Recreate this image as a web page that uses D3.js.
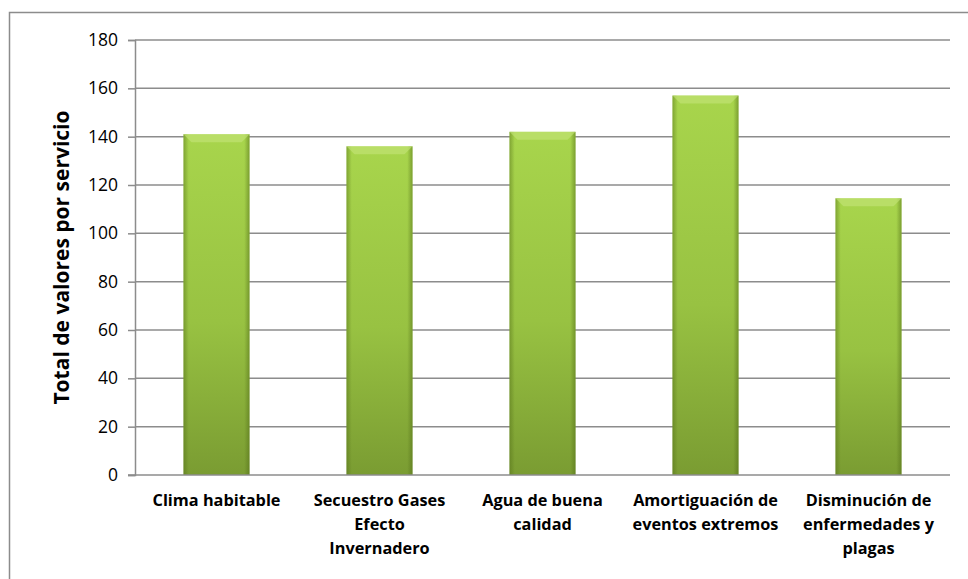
<!DOCTYPE html>
<html>
<head>
<meta charset="UTF-8">
<title>Total de valores por servicio</title>
<script src="https://d3js.org/d3.v7.min.js"></script>
<style>
    body, html { margin: 0; padding: 0; background: #fff; }
    svg { display: block; }
    .tick text { font-family: "Open Sans", Lato, sans-serif; }
</style>
</head>
<body>
<div id="chart"></div>
<script>
    // data
    const categories = [
        ["Clima habitable"],
        ["Secuestro Gases", "Efecto", "Invernadero"],
        ["Agua de buena", "calidad"],
        ["Amortiguación de", "eventos extremos"],
        ["Disminución de", "enfermedades y", "plagas"]
    ];
    const values = [141, 136, 142, 157, 114.5];
    const yTicks = [0, 20, 40, 60, 80, 100, 120, 140, 160, 180];

    const width = 968, height = 579;
    const margin = {top: 40, right: 18, bottom: 104, left: 135};

    const svg = d3.select("#chart").append("svg")
        .attr("width", width)
        .attr("height", height);

    // outer chart border
    svg.append("rect")
        .attr("x", 9.5).attr("y", 12.5)
        .attr("width", width + 10).attr("height", height + 10)
        .attr("fill", "none")
        .attr("stroke", "#8c8c8c")
        .attr("stroke-width", 1.5);

    const defs = svg.append("defs");
    const vg = defs.append("linearGradient").attr("id", "barV")
        .attr("x1", 0).attr("y1", 0).attr("x2", 0).attr("y2", 1);
    vg.append("stop").attr("offset", "0%").attr("stop-color", "#a8d54c");
    vg.append("stop").attr("offset", "55%").attr("stop-color", "#98c242");
    vg.append("stop").attr("offset", "100%").attr("stop-color", "#7a9c32");

    const hg = defs.append("linearGradient").attr("id", "barH")
        .attr("x1", 0).attr("y1", 0).attr("x2", 1).attr("y2", 0);
    hg.append("stop").attr("offset", "0%").attr("stop-color", "#4f6a16").attr("stop-opacity", 0.45);
    hg.append("stop").attr("offset", "8%").attr("stop-color", "#4f6a16").attr("stop-opacity", 0);
    hg.append("stop").attr("offset", "92%").attr("stop-color", "#4f6a16").attr("stop-opacity", 0);
    hg.append("stop").attr("offset", "100%").attr("stop-color", "#4f6a16").attr("stop-opacity", 0.5);

    const g = svg.append("g")
        .attr("transform", "translate(" + margin.left + "," + margin.top + ")");

    const innerW = width - margin.left - margin.right;
    const innerH = height - margin.top - margin.bottom;

    const x = d3.scaleBand()
        .domain(d3.range(categories.length))
        .range([0, innerW])
        .paddingInner(0.595)
        .paddingOuter(0.2975);

    const y = d3.scaleLinear()
        .domain([0, 180])
        .range([innerH, 0]);

    // gridlines
    g.append("g")
        .selectAll("line")
        .data(yTicks.slice(1))
        .join("line")
        .attr("x1", 0).attr("x2", innerW)
        .attr("y1", d => y(d)).attr("y2", d => y(d))
        .attr("stroke", "#8c8c8c")
        .attr("stroke-width", 1.5);

    // y axis
    const yAxis = g.append("g")
        .call(d3.axisLeft(y).tickValues(yTicks).tickSize(7).tickPadding(10));
    yAxis.select(".domain").attr("stroke", "#8c8c8c").attr("stroke-width", 1.5);
    yAxis.selectAll(".tick line").attr("stroke", "#8c8c8c").attr("stroke-width", 1.5);
    yAxis.selectAll(".tick text").attr("font-size", 17.5).attr("fill", "#000");

    // bars
    const bars = g.append("g").selectAll("g")
        .data(values)
        .join("g");

    bars.append("rect")
        .attr("x", (d, i) => x(i))
        .attr("y", d => y(d))
        .attr("width", x.bandwidth())
        .attr("height", d => innerH - y(d))
        .attr("fill", "url(#barV)");

    bars.append("rect")
        .attr("x", (d, i) => x(i))
        .attr("y", d => y(d))
        .attr("width", x.bandwidth())
        .attr("height", d => innerH - y(d))
        .attr("fill", "url(#barH)");

    // bevel at the top of each bar
    bars.append("path")
        .attr("d", (d, i) => {
            const x0 = x(i), x1 = x(i) + x.bandwidth(), y0 = y(d);
            return "M" + x0 + "," + y0 + "L" + x1 + "," + y0 +
                "L" + (x1 - 8) + "," + (y0 + 8) + "L" + (x0 + 8) + "," + (y0 + 8) + "Z";
        })
        .attr("fill", "#c4e57a")
        .attr("opacity", 0.6);

    // x axis line
    g.append("line")
        .attr("x1", -7).attr("x2", innerW)
        .attr("y1", innerH).attr("y2", innerH)
        .attr("stroke", "#8c8c8c")
        .attr("stroke-width", 1.5);

    // category labels
    const labels = g.append("g").selectAll("text")
        .data(categories)
        .join("text")
        .attr("x", (d, i) => x(i) + x.bandwidth() / 2)
        .attr("y", innerH + 31)
        .attr("text-anchor", "middle")
        .attr("font-family", "'Open Sans', Lato, sans-serif")
        .attr("font-weight", "bold")
        .attr("font-size", 16.3)
        .attr("fill", "#000");

    labels.selectAll("tspan")
        .data(d => d)
        .join("tspan")
        .attr("x", function() { return this.parentNode.getAttribute("x"); })
        .attr("dy", (d, i) => i === 0 ? 0 : 24)
        .text(d => d);

    // y axis title
    svg.append("text")
        .attr("transform", "translate(69," + (margin.top + innerH / 2) + ") rotate(-90)")
        .attr("text-anchor", "middle")
        .attr("font-family", "'Open Sans', Lato, sans-serif")
        .attr("font-weight", "bold")
        .attr("font-size", 21)
        .attr("fill", "#000")
        .text("Total de valores por servicio");
</script>
</body>
</html>
